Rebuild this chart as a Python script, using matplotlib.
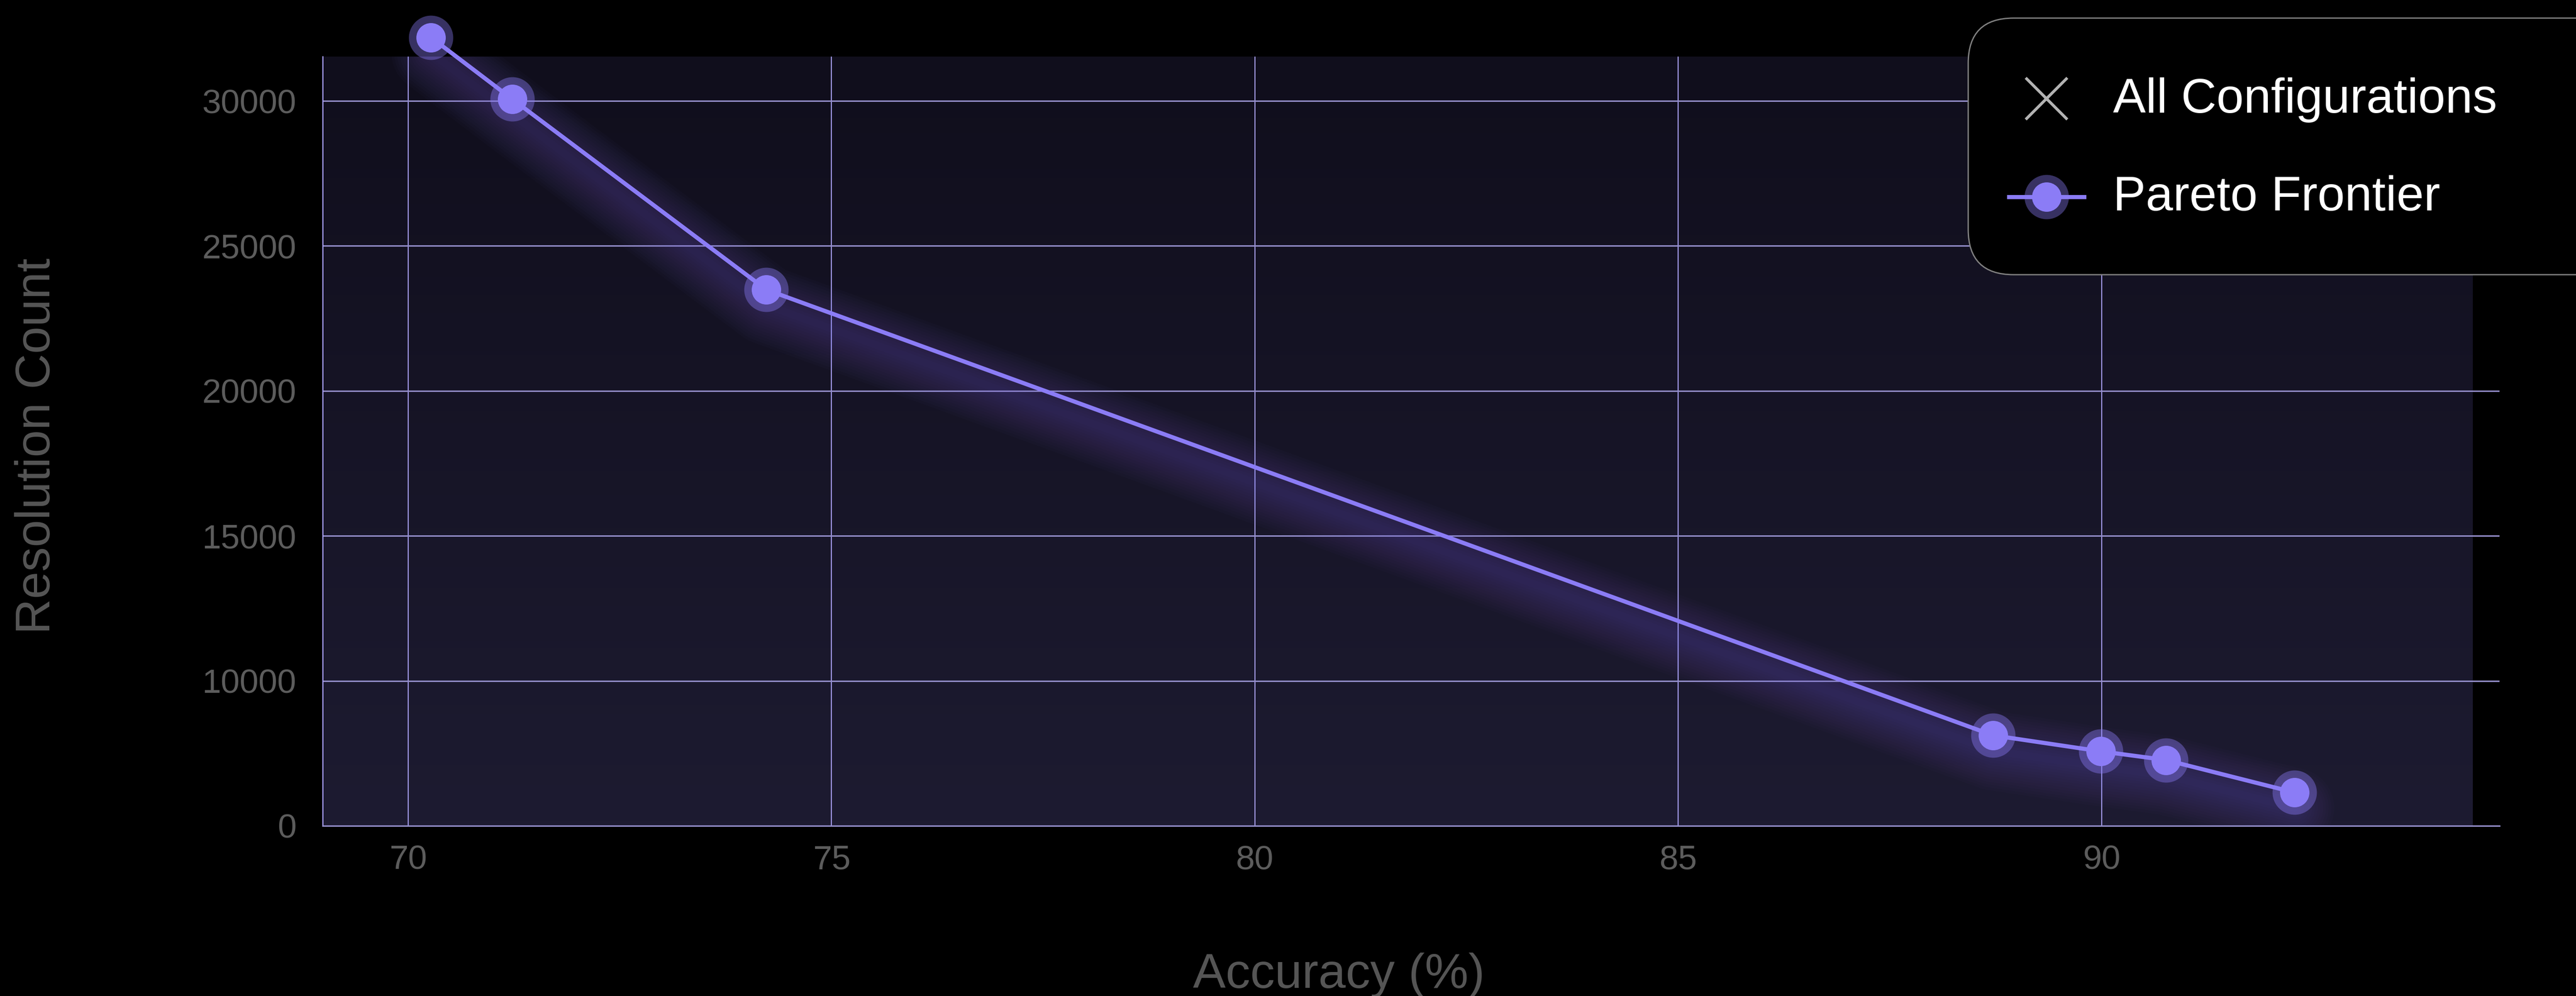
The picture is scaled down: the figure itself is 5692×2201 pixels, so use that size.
import numpy as np
import matplotlib
matplotlib.use("Agg")
import matplotlib.pyplot as plt
import matplotlib.transforms as mtransforms
from matplotlib.colors import LinearSegmentedColormap
from matplotlib.patches import FancyBboxPatch
from matplotlib.lines import Line2D

plt.rcParams['font.family'] = ['Liberation Sans', 'DejaVu Sans']

# data
accuracy = [70.27, 71.23, 74.23, 88.72, 89.99, 90.76, 92.28]
resolution = [32190, 30060, 23490, 8120, 7570, 7270, 6150]

xtick_vals = [70, 75, 80, 85, 90]
ytick_vals = [5000, 10000, 15000, 20000, 25000, 30000]
ytick_labels = ['0', '10000', '15000', '20000', '25000', '30000']

legend_labels = ['All Configurations', 'Pareto Frontier']

W, H, DPI = 5692, 2201, 300
PURPLE = '#8b7cf6'
XLIM = (68.99, 94.70)
BG_RIGHT = 94.38
YLIM = (5000, 31530)

fig = plt.figure(figsize=(W / DPI, H / DPI), dpi=DPI, facecolor='black')
ax = fig.add_axes([713 / W, 1 - 1825 / H, (5523 - 713) / W, (1825 - 125) / H])
ax.set_facecolor('black')

# plot area: soft vertical gradient
grad = np.linspace(0, 1, 256).reshape(-1, 1)
cmap = LinearSegmentedColormap.from_list('bg', ['#1d1b31', '#100e1c'])
ax.imshow(grad, extent=(XLIM[0], BG_RIGHT, YLIM[0], YLIM[1]), origin='lower',
          aspect='auto', cmap=cmap, zorder=-1, interpolation='bilinear')
ax.set_xlim(*XLIM)
ax.set_ylim(*YLIM)

ax.set_xticks(xtick_vals)
ax.set_yticks(ytick_vals, ytick_labels)
ax.set_axisbelow(True)
ax.xaxis.grid(True, color='#a89ff0', lw=0.55)
ax.yaxis.grid(True, color='#958fcc', lw=0.75)
ax.tick_params(axis='both', length=0, labelsize=18, labelcolor='#5c5c5c')
ax.tick_params(axis='x', pad=10)
ax.tick_params(axis='y', pad=14)

for side in ['top', 'right']:
    ax.spines[side].set_visible(False)
ax.spines['left'].set_color('#a89ff5')
ax.spines['left'].set_linewidth(0.6)
ax.spines['bottom'].set_color('#958fcc')
ax.spines['bottom'].set_linewidth(0.75)

# glow under the frontier line, shifted down a little
glow_tr = mtransforms.offset_copy(ax.transData, fig=fig, y=-34, units='dots')
for lw in np.linspace(4, 42, 14):
    ax.plot(accuracy, resolution, color=PURPLE, lw=lw, alpha=0.018,
            transform=glow_tr, solid_capstyle='round', solid_joinstyle='round', zorder=2)

ax.plot(accuracy, resolution, color=PURPLE, lw=2.2, clip_on=False, zorder=4)
ax.plot(accuracy, resolution, ls='none', marker='o', ms=23.5, mew=0,
        color=PURPLE, alpha=0.4, clip_on=False, zorder=5)
ax.plot(accuracy, resolution, ls='none', marker='o', ms=15.6, mew=0,
        color=PURPLE, clip_on=False, zorder=6)

# pixel transform (origin bottom-left)
px = mtransforms.Affine2D().scale(1 / DPI) + fig.dpi_scale_trans

fig.text(2958, H - 2183, 'Accuracy (%)', transform=px, ha='center', va='baseline',
         fontsize=26, color='#555555')
fig.text(82, H - 986, 'Resolution Count', transform=px, rotation=90,
         ha='center', va='center', fontsize=26, color='#555555')

# legend drawn by hand so the box can run off the right edge
box = FancyBboxPatch((4349, H - 607), 1500, 567,
                     boxstyle='round,pad=0,rounding_size=100',
                     transform=px, fc='black', ec='#808080', lw=0.7, zorder=10)
fig.add_artist(box)
fig.add_artist(Line2D([4522], [H - 218], marker='x', ms=22, mew=1.5,
                      color='#b3b3b3', ls='none', transform=px, zorder=11))
fig.add_artist(Line2D([4439, 4605], [H - 435, H - 435], color=PURPLE, lw=2.2,
                      transform=px, zorder=11))
fig.add_artist(Line2D([4522], [H - 435], marker='o', ms=23.5, mew=0, color=PURPLE,
                      alpha=0.4, ls='none', transform=px, zorder=12))
fig.add_artist(Line2D([4522], [H - 435], marker='o', ms=15.6, mew=0, color=PURPLE,
                      ls='none', transform=px, zorder=13))
for label, yb in zip(legend_labels, [249, 465]):
    fig.text(4669, H - yb, label, transform=px, ha='left', va='baseline',
             fontsize=26, color='white', zorder=14)

fig.savefig('out.png', dpi=DPI, facecolor='black')
